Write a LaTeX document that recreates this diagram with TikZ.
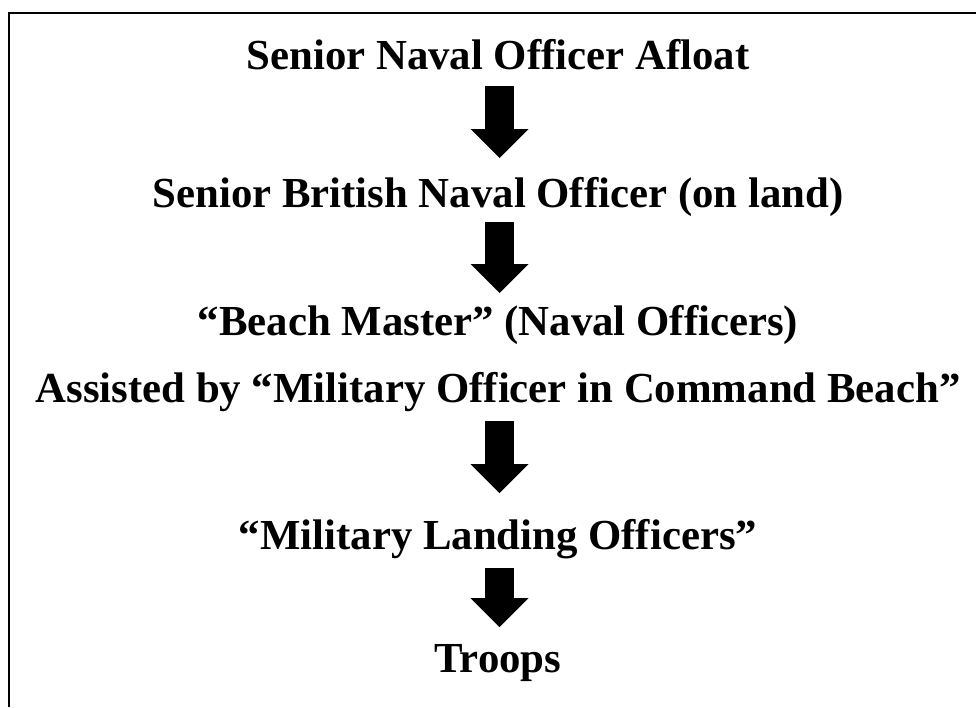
\documentclass[tikz,border=0pt]{standalone}
\usepackage{fontspec}
\setmainfont{Liberation Serif}
\usetikzlibrary{arrows.meta}
\begin{document}
\begin{tikzpicture}[x=1pt,y=-1pt,
  lvl/.style={anchor=base,inner sep=0pt,font=\fontsize{42.8}{48}\selectfont\bfseries},
  blk/.style={line width=29pt,-{Triangle[width=58pt,length=29pt,line width=0pt]}}]
  \useasboundingbox (0,0) rectangle (976,707);
  \draw[line width=2pt] (9,707) |- (976,13);
  \node[lvl] (t1) at (498,69){Senior Naval Officer Afloat};
  \node[lvl] (t2) at (498,207){Senior British Naval Officer (on land)};
  \node[lvl] (t3) at (498,335){“Beach Master” (Naval Officers)};
  \node[lvl] (t4) at (498,402){Assisted by “Military Officer in Command Beach”};
  \node[lvl] (t5) at (498,549){“Military Landing Officers”};
  \node[lvl] (t6) at (498,672){Troops};
  \draw[blk] ([xshift=1.5pt,yshift=-17pt]t1.base) -- ([xshift=1.5pt,yshift=49pt]t2.base);
  \draw[blk] ([xshift=1.5pt,yshift=-15pt]t2.base) -- ([xshift=1.5pt,yshift=42pt]t3.base);
  \draw[blk] ([xshift=1.5pt,yshift=-19pt]t4.base) -- ([xshift=1.5pt,yshift=56pt]t5.base);
  \draw[blk] ([xshift=1.5pt,yshift=-19pt]t5.base) -- ([xshift=1.5pt,yshift=45pt]t6.base);
\end{tikzpicture}
\end{document}
